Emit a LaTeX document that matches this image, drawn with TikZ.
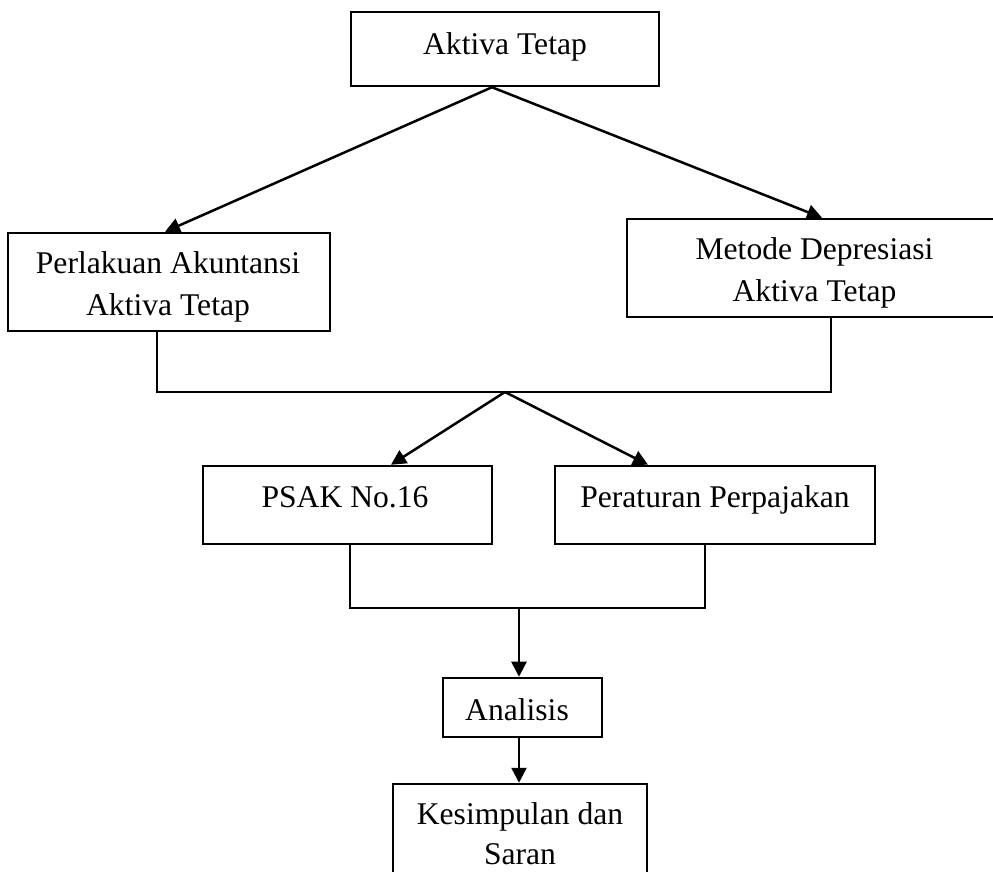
\documentclass[tikz,border=0pt]{standalone}
\usepackage{fontspec}
\setmainfont{Liberation Serif}
\usetikzlibrary{arrows.meta}
\begin{document}
\begin{tikzpicture}[x=0.5pt,y=-0.5pt,
  box/.style={draw, line width=1.25pt, rectangle, inner sep=0pt},
  txt/.style={inner sep=0pt, font=\fontsize{15.8}{21}\selectfont, align=center},
  conn/.style={line width=1.25pt},
  arr/.style={conn, -{Triangle[length=7.5pt,width=7.5pt]}}]
\clip (0,0) rectangle (993,872);
% boxes
\node[box, minimum width=154pt, minimum height=37pt] (aktiva) at (505,49) {};
\node[box, minimum width=161pt, minimum height=49pt] (perl) at (169,282) {};
\node[box, minimum width=188pt, minimum height=49pt] (meto) at (815,268) {};
\node[box, minimum width=144.5pt, minimum height=39pt] (psak) at (347.5,505) {};
\node[box, minimum width=160pt, minimum height=39pt] (pera) at (715,505) {};
\node[box, minimum width=79.5pt, minimum height=29.5pt] (anal) at (522.5,707.5) {};
\node[box, minimum width=127pt, minimum height=53pt] (kesi) at (520,837) {};
% texts
\node[txt, anchor=base] (aktiva-t) at (505,55) {Aktiva Tetap};
\node[txt] (perl-t) at (168,286.6) {Perlakuan Akuntansi\\Aktiva Tetap};
\node[txt] (meto-t) at (814.5,272.6) {Metode Depresiasi\\Aktiva Tetap};
\node[txt, anchor=base] (psak-t) at (345,508) {PSAK No.16};
\node[txt, anchor=base] (pera-t) at (715,508) {Peraturan Perpajakan};
\node[txt, anchor=base] (anal-t) at (517,720) {Analisis};
\node[txt, font=\fontsize{15.8}{20}\selectfont] (kesi-t) at (520,834) {Kesimpulan dan\\Saran};
% connectors
\coordinate (apex) at ([xshift=-6.5pt]aktiva.south);
\draw[arr] (apex) -- ([xshift=-2pt]perl.north);
\draw[arr] (apex) -- ([xshift=3.5pt]meto.north);
\coordinate (j1) at (505,392);
\draw[conn] ([xshift=-6pt]perl.south) |- (j1) -| ([xshift=8pt]meto.south);
\draw[arr] (j1) -- ([xshift=21.75pt]psak.north);
\draw[arr] (j1) -- ([xshift=-33.5pt]pera.north);
\coordinate (j2) at (519,608);
\draw[conn] ([xshift=1.25pt]psak.south) |- (j2) -| ([xshift=-5pt]pera.south);
\draw[arr] (j2) -- (j2 |- anal.north);
\draw[arr] (anal.south -| j2) -- (kesi.north -| j2);
\end{tikzpicture}
\end{document}
